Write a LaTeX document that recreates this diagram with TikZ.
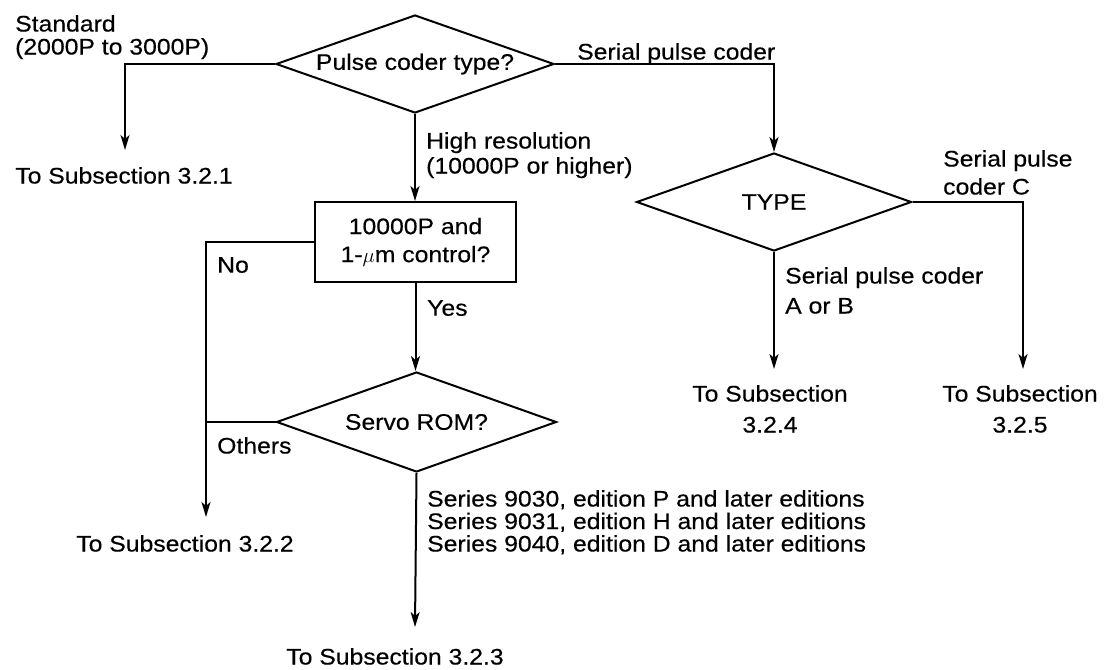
\documentclass[tikz,border=0pt]{standalone}
\usepackage{fontspec}
\setmainfont[FakeStretch=1.1,FakeBold=0.4]{Liberation Sans}
\usetikzlibrary{shapes.geometric,arrows.meta}
\begin{document}
\begin{tikzpicture}[x=1pt,y=-1pt,
  every node/.style={inner sep=0pt,font=\fontsize{22.5}{26}\selectfont},
  dia/.style={draw,diamond,line width=2pt,inner sep=0pt},
  box/.style={draw,rectangle,line width=2pt,align=center},
  conn/.style={line width=2pt},
  arr/.style={conn,-{Stealth[length=15pt,width=9pt,inset=4pt]}},
  lbl/.style={anchor=north west,align=left},
  term/.style={anchor=north,align=center}]
\useasboundingbox (0,0) rectangle (1110,669);
% decision nodes
\node[dia,aspect=2.84,minimum width=278pt,minimum height=98pt] (d1) at (415,64) {Pulse coder type?};
\node[dia,aspect=2.8,minimum width=275pt,minimum height=98pt] (d2) at (774,202) {TYPE};
\node[box,minimum width=201pt,minimum height=80pt,
      font=\fontsize{22.5}{28}\selectfont] (b1) at (415.5,242) {10000P and\\1-$\mu$m control?};
\node[dia,aspect=2.8,minimum width=280pt,minimum height=100pt] (d3) at (416.5,422) {Servo ROM?\hspace{40pt}};
% arrow end points
\coordinate (t1tip) at (125,150);
\coordinate (t2tip) at (206,517);
\coordinate (t3tip) at (415,627);
\coordinate (t4tip) at (774,369);
\coordinate (t5tip) at (1023,369);
% terminal texts
\node[term] (t1) at (124,167) {To Subsection 3.2.1};
\node[term] (t2) at (185,535) {To Subsection 3.2.2};
\node[term] (t3) at (395,648) {To Subsection 3.2.3};
\node[term,font=\fontsize{22.5}{31}\selectfont] (t4) at (770,385) {To Subsection\\3.2.4};
\node[term,font=\fontsize{22.5}{31}\selectfont] (t5) at (1020,385) {To Subsection\\3.2.5};
% connectors
\draw[arr] (d1.west) -| (t1tip);
\draw[arr] (d1.east) -| (d2.north);
\draw[arr] (d1.south) -- (d1.south |- b1.north);
\draw[arr] (d2.south) -- (t4tip);
\draw[arr] (d2.east) -| (t5tip);
\draw[arr] (b1.west) -| (t2tip);
\draw[conn] (d3.west) -- (d3.west -| t2tip);
\draw[arr] (b1.south) -- (b1.south |- d3.north);
\draw[arr] (d3.south) -- (t3tip);
% branch labels
\node[lbl,font=\fontsize{22.5}{23}\selectfont] (lstd) at (15,15) {Standard\\(2000P to 3000P)};
\node[lbl] (lser) at (577,43) {Serial pulse coder};
\node[lbl,font=\fontsize{22.5}{25}\selectfont] (lhigh) at (426,132) {High resolution\\(10000P or higher)};
\node[lbl,font=\fontsize{22.5}{28}\selectfont] (lc) at (943,150) {Serial pulse\\coder C};
\node[lbl,font=\fontsize{22.5}{30}\selectfont] (lab) at (785,267) {Serial pulse coder\\A or B};
\node[lbl] (lno) at (217,257) {No};
\node[lbl] (lyes) at (427,300) {Yes};
\node[lbl] (loth) at (217,437) {Others};
\node[lbl,font=\fontsize{22.5}{22.5}\selectfont] (lseries) at (427,490) {Series 9030, edition P and later editions\\Series 9031, edition H and later editions\\Series 9040, edition D and later editions};
\end{tikzpicture}
\end{document}
